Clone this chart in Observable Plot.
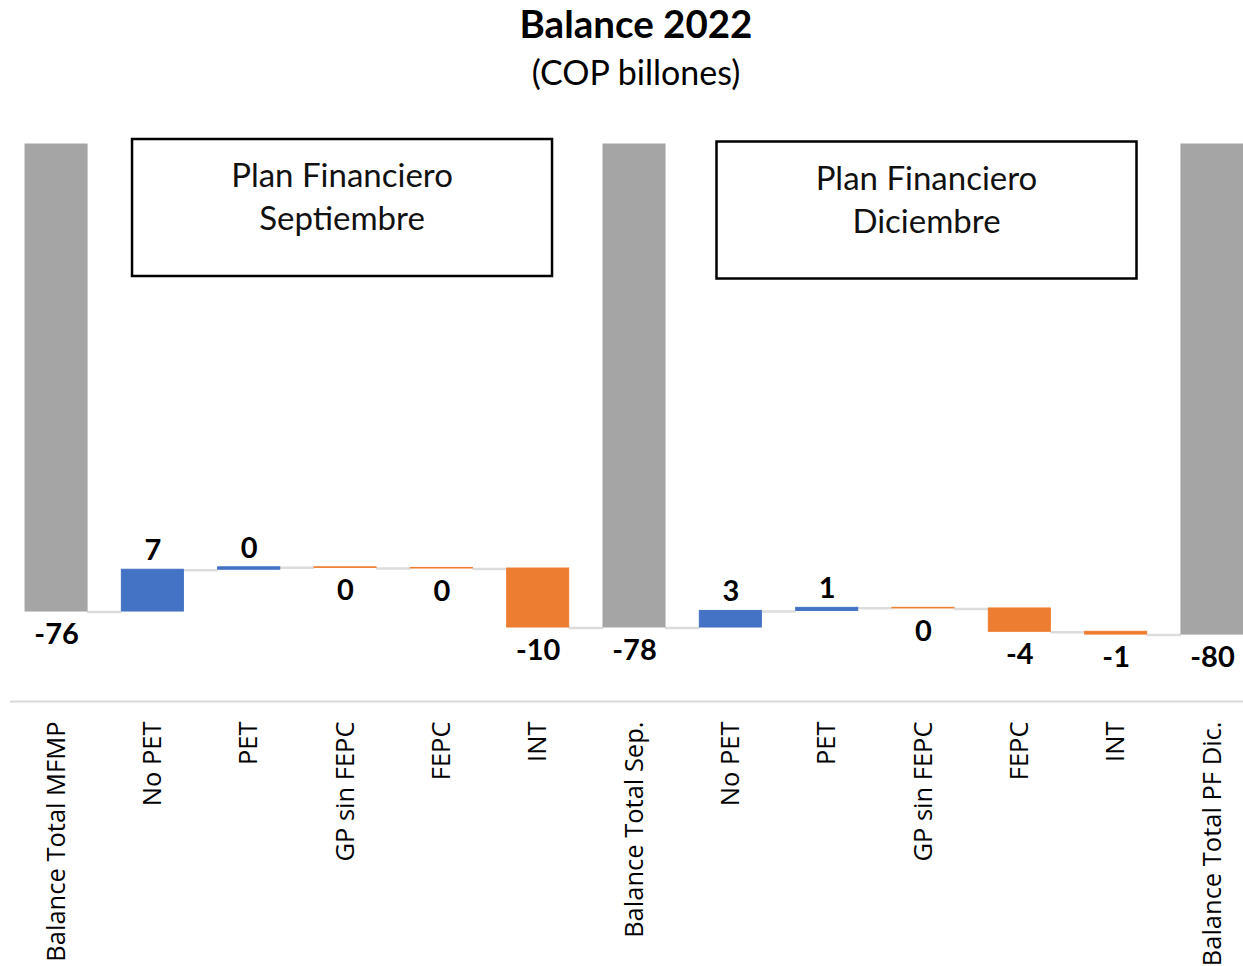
<!DOCTYPE html>
<html><head><meta charset="utf-8">
<script src="https://cdn.jsdelivr.net/npm/d3@7"></script>
<script src="https://cdn.jsdelivr.net/npm/@observablehq/plot@0.6"></script>
<style>
body{margin:0;background:#fff;}
#wrap{position:relative;width:1243px;height:966px;overflow:hidden;background:#fff;}
#title{position:absolute;left:0;top:2px;width:1243px;padding-left:29px;box-sizing:border-box;text-align:center;font-family:Lato;font-weight:bold;font-size:38.5px;line-height:42px;color:#000;}
#subtitle{position:absolute;left:0;top:52px;width:1243px;padding-left:29px;box-sizing:border-box;text-align:center;font-family:Lato;font-size:34px;line-height:40px;color:#000;}
#chart{position:absolute;left:0;top:100px;}
</style></head><body>
<div id="wrap">
<div id="title">Balance 2022</div>
<div id="subtitle">(COP billones)</div>
<div id="chart"></div>
</div>
<script>
const categories = ["Balance Total MFMP","No PET","PET","GP sin FEPC","FEPC","INT","Balance Total Sep.","No PET","PET","GP sin FEPC","FEPC","INT","Balance Total PF Dic."];
const values = [-76.0, 6.8, 0.4, -0.1, -0.1, -9.6, -78.6, 2.7, 0.5, -0.1, -3.8, -0.45, -79.75];
const kinds = ["total","delta","delta","delta","delta","delta","total","delta","delta","delta","delta","delta","total"];
const valueLabels = ["-76","7","0","0","0","-10","-78","3","1","0","-4","-1","-80"];
const panelTitles = [["Plan Financiero","Septiembre"],["Plan Financiero","Diciembre"]];
const panelRanges = [[1,5],[7,11]];

const colors = {total:"#a5a5a5", up:"#4472c4", down:"#ed7d31"};

let run = 0;
const rows = categories.map((c, i) => {
  let y1, y2, color;
  if (kinds[i] === "total") { y1 = 0; y2 = values[i]; run = values[i]; color = colors.total; }
  else { y1 = run; y2 = run + values[i]; run = y2; color = values[i] >= 0 ? colors.up : colors.down; }
  const up = kinds[i] === "delta" && values[i] >= 0;
  return {i, y1, y2, end: y2, color, label: valueLabels[i], up, ly: up ? Math.max(y1, y2) : Math.min(y1, y2)};
});

const yMin = -90.64;

function connectors(index, scales) {
  const {x, y} = scales;
  const bw = x.bandwidth();
  const g = d3.create("svg:g");
  for (let k = 0; k < rows.length - 1; k++) {
    const yy = y(rows[k].end);
    g.append("line")
      .attr("x1", x(k) + bw).attr("x2", x(k + 1))
      .attr("y1", yy + 1).attr("y2", yy + 1)
      .attr("stroke", "#dcdcdc").attr("stroke-width", 2.5);
  }
  return g.node();
}

function boxes(index, scales) {
  const {x, y} = scales;
  const bw = x.bandwidth();
  const g = d3.create("svg:g");
  const shift = [-3, 3.5];
  panelRanges.forEach(([a, b], j) => {
    const mid = (x(a) + x(b) + bw) / 2 + shift[j];
    const left = mid - 210, right = mid + 210;
    const top = y(0) - 5 + j * 2.5, h = 137;
    g.append("rect").attr("x", left).attr("y", top).attr("width", right - left).attr("height", h)
      .attr("fill", "white").attr("stroke", "#000").attr("stroke-width", 2.5);
    panelTitles[j].forEach((t, k) => {
      g.append("text").attr("x", mid).attr("y", top + 35 + k * 43)
        .attr("text-anchor", "middle").attr("dominant-baseline", "central")
        .attr("font-family", "Lato").attr("font-size", 33).attr("fill", "#111").text(t);
    });
  });
  return g.node();
}

const plot = Plot.plot({
  width: 1243, height: 866,
  marginTop: 44, marginBottom: 265, marginLeft: 10, marginRight: 0,
  x: {type: "band", domain: d3.range(categories.length), paddingInner: 0.356, paddingOuter: 0.078, align: 1, round: false, axis: null},
  y: {domain: [yMin, 0], axis: null},
  style: {fontFamily: "Open Sans", background: "white", overflow: "visible"},
  marks: [
    connectors,
    Plot.barY(rows, {x: "i", y1: "y1", y2: "y2", fill: "color", stroke: "color", strokeWidth: 1}),
    Plot.text(rows.filter(d => d.up), {x: "i", y: "ly", text: "label", dy: -19, fontFamily: "Lato", fontWeight: "bold", fontSize: 29, fill: "#000", lineAnchor: "middle"}),
    Plot.text(rows.filter(d => !d.up), {x: "i", y: "ly", text: "label", dy: 23, fontFamily: "Lato", fontWeight: "bold", fontSize: 29, fill: "#000", lineAnchor: "middle"}),
    Plot.ruleY([yMin], {stroke: "#d9d9d9", strokeWidth: 2}),
    Plot.axisX({tickFormat: i => categories[i], tickRotate: -90, tickSize: 0, tickPadding: 20, fontSize: 25.5, textAnchor: "end", lineAnchor: "middle", fill: "#000", label: null}),
    boxes
  ]
});
document.getElementById("chart").appendChild(plot);
</script>
</body></html>
